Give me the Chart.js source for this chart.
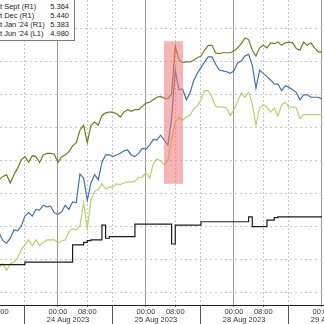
<!DOCTYPE html>
<html>
<head>
<meta charset="utf-8">
<script src="https://cdn.jsdelivr.net/npm/chart.js@4.4.0/dist/chart.umd.min.js"></script>
<style>
  html, body { margin: 0; padding: 0; background: #fff; }
  #wrap { position: relative; width: 324px; height: 324px; overflow: hidden; }
  #legend {
    position: absolute; left: -10px; top: -2px; width: 85px; height: 43px;
    box-sizing: border-box; border: 1px solid #7a7a7a; background: #fff;
    padding: 3px 5px 0 4px; color: #222;
    font: 7.5px "Liberation Sans", Arial, sans-serif;
  }
  #legend div { display: flex; justify-content: space-between; height: 9px; line-height: 9px; white-space: nowrap; }
</style>
</head>
<body>
<div id="wrap">
  <canvas id="chart" width="324" height="324"></canvas>
  <div id="legend"></div>
</div>
<script>
// trading hours counted from 23 Aug 2023 08:00 (weekend squeezed out)
const hours = [0,1,2,3,4,5,6,7,8,9,10,11,12,13,14,15,16,17,18,19,20,21,22,23,24,25,26,27,28,29,
  30,31,32,33,34,35,36,37,38,39,40,41,42,43,44,45,46,47,48,49,50,51,52,53,54,55,56,57,58,59,
  60,61,62,63,64,65,66,67,68,69,70,71,72,73,74,75,76,77,78,79,80,81,82,83,84,85,86,87,88];

const septRates = [5.179,5.183,5.175,5.183,5.185,5.190,5.200,5.206,5.212,5.205,5.212,5.205,5.209,5.212,5.212,
  5.212,5.208,5.211,5.212,5.222,5.226,5.224,5.229,5.257,5.226,5.260,5.271,5.273,5.280,5.274,
  5.276,5.276,5.280,5.279,5.281,5.282,5.282,5.283,5.288,5.288,5.294,5.287,5.304,5.310,5.308,
  5.303,5.309,5.333,5.355,5.360,5.357,5.361,5.363,5.371,5.374,5.382,5.393,5.393,5.385,5.374,
  5.373,5.373,5.372,5.363,5.370,5.380,5.390,5.385,5.391,5.377,5.351,5.372,5.376,5.373,5.367,
  5.372,5.362,5.376,5.379,5.373,5.373,5.372,5.359,5.364,5.364,5.364,5.364,5.364,5.364];

const decRates = [5.285,5.289,5.291,5.281,5.291,5.299,5.309,5.313,5.306,5.314,5.313,5.306,5.315,5.317,5.317,
  5.316,5.306,5.313,5.315,5.319,5.326,5.330,5.345,5.351,5.330,5.351,5.355,5.351,5.363,5.366,
  5.367,5.367,5.365,5.361,5.367,5.370,5.368,5.370,5.370,5.374,5.378,5.379,5.382,5.385,5.386,
  5.384,5.383,5.389,5.447,5.430,5.427,5.428,5.428,5.430,5.433,5.435,5.442,5.448,5.448,5.439,
  5.438,5.439,5.439,5.439,5.441,5.445,5.450,5.457,5.455,5.442,5.435,5.445,5.448,5.445,5.451,
  5.450,5.452,5.448,5.451,5.452,5.451,5.444,5.442,5.452,5.448,5.451,5.445,5.440,5.440];

const janRates = [5.220,5.211,5.208,5.214,5.224,5.223,5.229,5.241,5.245,5.241,5.249,5.248,5.254,5.252,5.253,
  5.245,5.243,5.246,5.254,5.249,5.258,5.257,5.292,5.287,5.260,5.281,5.291,5.285,5.306,5.315,
  5.315,5.313,5.315,5.317,5.320,5.321,5.315,5.313,5.317,5.323,5.322,5.327,5.334,5.333,5.339,
  5.333,5.327,5.360,5.418,5.394,5.395,5.382,5.390,5.405,5.414,5.421,5.428,5.434,5.434,5.425,
  5.418,5.417,5.416,5.414,5.417,5.427,5.429,5.435,5.437,5.424,5.396,5.418,5.414,5.410,5.406,
  5.401,5.401,5.393,5.399,5.397,5.394,5.391,5.382,5.388,5.388,5.385,5.385,5.385,5.383];

const jun24Rates = [4.922,4.922,4.922,4.922,4.922,4.922,4.922,4.925,4.925,4.925,4.925,4.925,4.925,4.925,4.925,
  4.925,4.925,4.925,4.925,4.925,4.946,4.946,4.946,4.949,4.951,4.952,4.952,4.952,4.970,4.954,
  4.956,4.956,4.956,4.956,4.956,4.956,4.956,4.971,4.971,4.971,4.971,4.971,4.971,4.971,4.971,
  4.971,4.971,4.947,4.970,4.970,4.970,4.970,4.970,4.970,4.970,4.974,4.974,4.974,4.974,4.974,
  4.974,4.974,4.974,4.974,4.974,4.974,4.974,4.974,4.980,4.968,4.968,4.968,4.968,4.976,4.976,
  4.979,4.980,4.980,4.980,4.980,4.980,4.980,4.980,4.980,4.980,4.980,4.980,4.980,4.980];

const seriesNames = ["At Sept (R1)", "At Dec (R1)", "At Jan '24 (R1)", "At Jun '24 (L1)"];
const lastValues = ["5.364", "5.440", "5.383", "4.980"];

const timeTicks = [0, 16, 24, 40, 48, 64, 72, 88];
const timeLabels = ["08:00", "00:00", "08:00", "00:00", "08:00", "00:00", "08:00", "00:00"];
const dayBreaks = [6.75, 30.75, 54.75, 78.75];
const dayCentres = [18.75, 42.75, 66.75, 90.75];
const dayLabels = ["24 Aug 2023", "25 Aug 2023", "28 Aug 2023", "29 Aug 2023"];
const rateGrid = [5.148, 5.188, 5.228, 5.268, 5.308, 5.348, 5.388, 5.428, 5.468];

// Jackson Hole window
const shadeHours = [44.9, 50.1];
const shadeRates = [5.280, 5.453];

const tickFont = { family: "Liberation Sans", size: 7.5 };

function labelAt(v) {
  const i = timeTicks.indexOf(v);
  return i < 0 ? "" : timeLabels[i];
}

const legendBox = document.getElementById("legend");
seriesNames.forEach((name, i) => {
  const row = document.createElement("div");
  const a = document.createElement("span");
  const b = document.createElement("span");
  a.textContent = name;
  b.textContent = lastValues[i];
  row.appendChild(a);
  row.appendChild(b);
  legendBox.appendChild(row);
});

const decorations = {
  id: "decorations",
  afterDatasetsDraw(chart) {
    const { ctx, scales: { x, y } } = chart;
    const x0 = x.getPixelForValue(shadeHours[0]);
    const x1 = x.getPixelForValue(shadeHours[1]);
    const y0 = y.getPixelForValue(shadeRates[1]);
    const y1 = y.getPixelForValue(shadeRates[0]);
    ctx.save();
    ctx.fillStyle = "rgba(238, 118, 118, 0.55)";
    ctx.fillRect(x0, y0, x1 - x0, y1 - y0);
    ctx.restore();
  },
  afterDraw(chart) {
    const { ctx, chartArea, scales: { x } } = chart;
    ctx.save();
    ctx.strokeStyle = "#555";
    ctx.lineWidth = 1;
    dayBreaks.forEach(h => {
      const px = Math.round(x.getPixelForValue(h)) + 0.5;
      ctx.beginPath();
      ctx.moveTo(px, chartArea.bottom);
      ctx.lineTo(px, chart.height);
      ctx.stroke();
    });
    ctx.restore();
  }
};

function pts(vals) {
  return hours.map((h, i) => ({ x: h, y: vals[i] }));
}

new Chart(document.getElementById("chart"), {
  type: "line",
  data: {
    datasets: [
      { label: seriesNames[3], data: pts(jun24Rates), yAxisID: "yL", borderColor: "#1c1c1c", borderWidth: 1.2, stepped: true },
      { label: seriesNames[0], data: pts(septRates), yAxisID: "y", borderColor: "#b3d36b", borderWidth: 1.2 },
      { label: seriesNames[2], data: pts(janRates), yAxisID: "y", borderColor: "#4174a6", borderWidth: 1.2 },
      { label: seriesNames[1], data: pts(decRates), yAxisID: "y", borderColor: "#6f7d22", borderWidth: 1.2 }
    ]
  },
  options: {
    responsive: false,
    animation: false,
    devicePixelRatio: 1,
    layout: { padding: 0 },
    elements: { point: { radius: 0 }, line: { tension: 0 } },
    plugins: { legend: { display: false }, tooltip: { enabled: false } },
    scales: {
      x: {
        type: "linear", position: "bottom", min: 0.2, max: 88.56,
        afterBuildTicks: s => { s.ticks = timeTicks.concat(dayBreaks).sort((a, b) => a - b).map(v => ({ value: v })); },
        afterFit: s => { s.height = 10; s.paddingLeft = 0; s.paddingRight = 0; },
        ticks: { autoSkip: false, maxRotation: 0, padding: 0, font: tickFont, color: "#333", callback: v => labelAt(v) },
        grid: {
          color: c => (c.tick && labelAt(c.tick.value) === "00:00") ? "#9a9a9a" : "#c6c6c6",
          lineWidth: 1, drawTicks: true, tickLength: 2, tickColor: "#777"
        },
        border: { display: true, color: "#222", width: 1, dash: c => (c.tick && labelAt(c.tick.value) !== "00:00") ? [2, 2] : [] }
      },
      x2: {
        type: "linear", axis: "x", position: "bottom", min: 0.2, max: 88.56,
        afterBuildTicks: s => { s.ticks = dayCentres.map(v => ({ value: v })); },
        afterFit: s => { s.height = 9; s.paddingLeft = 0; s.paddingRight = 0; },
        ticks: { autoSkip: false, maxRotation: 0, padding: 0, font: tickFont, color: "#333", callback: (v, i) => dayLabels[i] },
        grid: { display: false, drawTicks: false },
        border: { display: false }
      },
      y: {
        type: "linear", position: "right", min: 5.133, max: 5.503,
        afterBuildTicks: s => { s.ticks = rateGrid.map(v => ({ value: v })); },
        afterFit: s => { s.width = 0; },
        ticks: { display: false },
        grid: { color: "#c6c6c6", lineWidth: 1, drawTicks: false },
        border: { display: false, dash: c => c.tick ? [2, 3] : [] }
      },
      yL: { type: "linear", position: "left", display: false, min: 4.873, max: 5.243 }
    }
  },
  plugins: [decorations]
});
</script>
</body>
</html>
